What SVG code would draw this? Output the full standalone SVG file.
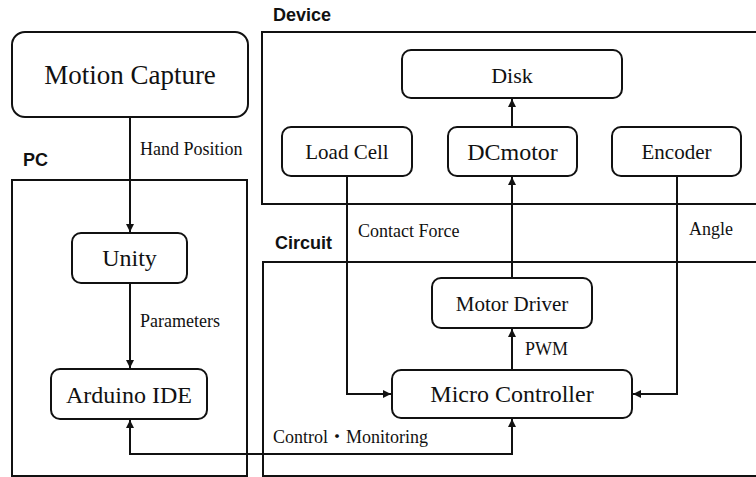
<svg xmlns="http://www.w3.org/2000/svg" width="756" height="477" viewBox="0 0 756 477">
<defs>
<style>
.grp{fill:none;stroke:#111;stroke-width:2}
.node{fill:#fff;stroke:#111;stroke-width:2}
.t{font-family:"Liberation Serif","Times New Roman",serif;fill:#111;text-anchor:middle}
.lbl{font-family:"Liberation Serif","Times New Roman","Noto Sans CJK JP",serif;font-size:18px;fill:#111}
.gl{font-family:"Liberation Sans",Arial,sans-serif;font-weight:bold;font-size:18px;fill:#111}
.c{fill:none;stroke:#111;stroke-width:2}
</style>
<marker id="ah" viewBox="0 0 10 10" refX="10" refY="5" markerWidth="8" markerHeight="9" markerUnits="userSpaceOnUse" orient="auto">
<path d="M0,0 L10,5 L0,10 z" fill="#111"/>
</marker>
</defs>
<rect width="756" height="477" fill="#fff"/>
<g id="groups">
<rect class="grp" x="12" y="180" width="235" height="296"/>
<text class="gl" x="23" y="166">PC</text>
<rect class="grp" x="262" y="32" width="496" height="172"/>
<text class="gl" x="273" y="21">Device</text>
<rect class="grp" x="263" y="262" width="496" height="214"/>
<text class="gl" x="275" y="249">Circuit</text>
</g>
<g id="connectors">
<line class="c" x1="130" y1="117" x2="130" y2="232" marker-end="url(#ah)"/>
<text class="lbl" x="140" y="155">Hand Position</text>
<line class="c" x1="130" y1="283" x2="130" y2="368" marker-end="url(#ah)"/>
<text class="lbl" x="140" y="327">Parameters</text>
<polyline class="c" points="512,370 512,454 130,454 130,420" marker-end="url(#ah)"/>
<line class="c" x1="512" y1="454" x2="512" y2="419" marker-end="url(#ah)"/>
<text class="lbl" x="273" y="443">Control・Monitoring</text>
<line class="c" x1="512" y1="127" x2="512" y2="99" marker-end="url(#ah)"/>
<line class="c" x1="512" y1="278" x2="512" y2="177" marker-end="url(#ah)"/>
<line class="c" x1="512" y1="370" x2="512" y2="329" marker-end="url(#ah)"/>
<text class="lbl" x="525" y="355">PWM</text>
<polyline class="c" points="347,176 347,394 391,394" marker-end="url(#ah)"/>
<text class="lbl" x="358" y="237">Contact Force</text>
<polyline class="c" points="677,176 677,394 633,394" marker-end="url(#ah)"/>
<text class="lbl" x="689" y="235">Angle</text>
</g>
<g id="motion-capture">
<rect class="node" x="12" y="32" width="236" height="85" rx="13"/>
<text class="t" x="130" y="84" font-size="27">Motion Capture</text>
</g>
<g id="unity">
<rect class="node" x="72" y="233" width="115" height="50" rx="9"/>
<text class="t" x="129.5" y="266" font-size="24">Unity</text>
</g>
<g id="arduino-ide">
<rect class="node" x="51" y="369" width="156" height="50" rx="9"/>
<text class="t" x="129" y="403" font-size="24">Arduino IDE</text>
</g>
<g id="disk">
<rect class="node" x="402" y="50" width="220" height="48" rx="9"/>
<text class="t" x="512" y="83" font-size="22">Disk</text>
</g>
<g id="load-cell">
<rect class="node" x="282" y="127" width="130" height="49" rx="9"/>
<text class="t" x="347" y="159" font-size="21">Load Cell</text>
</g>
<g id="dcmotor">
<rect class="node" x="448" y="127" width="129" height="49" rx="9"/>
<text class="t" x="512.5" y="160" font-size="24">DCmotor</text>
</g>
<g id="encoder">
<rect class="node" x="612" y="127" width="129" height="49" rx="9"/>
<text class="t" x="676.5" y="159" font-size="21">Encoder</text>
</g>
<g id="motor-driver">
<rect class="node" x="432" y="278" width="160" height="50" rx="9"/>
<text class="t" x="512" y="311" font-size="21">Motor Driver</text>
</g>
<g id="micro-controller">
<rect class="node" x="392" y="370" width="240" height="48" rx="9"/>
<text class="t" x="512" y="402" font-size="24">Micro Controller</text>
</g>
</svg>
